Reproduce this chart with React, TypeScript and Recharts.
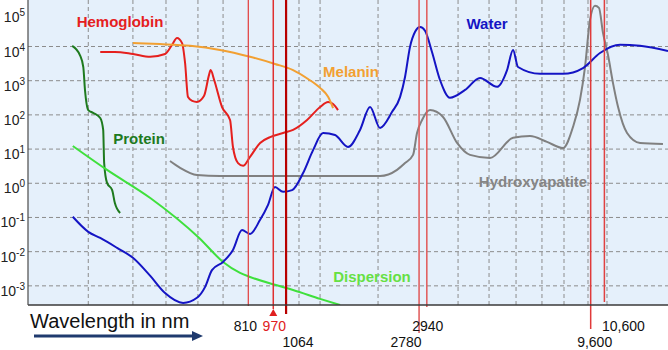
import React from 'react';
import {
  LineChart,
  Line,
  XAxis,
  YAxis,
  CartesianGrid,
  ReferenceLine,
} from 'recharts';

document.body.style.margin = '0';

// wavelengths in nm, absorption as log10 values (axis shows 10^n)
const hemoglobinWl = [278, 309, 352, 399, 444, 467, 484, 502, 513, 524, 540, 559, 588, 610, 617, 633, 670, 710, 725, 752, 780, 820, 882, 948, 1041, 1119, 1238, 1360, 1441, 1494, 1548];
const hemoglobinLog = [3.84, 3.84, 3.78, 3.7, 3.78, 4.05, 4.25, 4.1, 3.52, 2.52, 2.41, 2.38, 2.55, 3.17, 3.31, 3.02, 2.23, 1.85, 1.06, 0.59, 0.51, 0.77, 1.18, 1.35, 1.47, 1.56, 1.85, 2.23, 2.38, 2.32, 2.14];

const melaninWl = [352, 428, 532, 660, 820, 982, 1119, 1247, 1360, 1441, 1494];
const melaninLog = [4.1, 4.07, 4.02, 3.9, 3.7, 3.49, 3.31, 3.05, 2.79, 2.53, 2.2];

const proteinWl = [227, 240, 246, 249, 255, 264, 278, 284, 286, 292, 303, 309, 321];
const proteinLog = [4.02, 3.75, 3.4, 2.73, 2.14, 2.06, 1.91, 1.56, 0.59, 0.01, -0.2, -0.58, -0.87];

const dispersionWl = [228, 292, 399, 568, 675, 763, 820, 982, 1119, 1360, 1571];
const dispersionLog = [1.09, 0.39, -0.43, -1.6, -2.3, -2.62, -2.74, -2.97, -3.12, -3.38, -3.56];

const waterWl = [228, 255, 278, 314, 352, 399, 444, 506, 559, 593, 623, 675, 725, 774, 820, 882, 934, 982, 1041, 1111, 1203, 1293, 1390, 1515, 1664, 1815, 1951, 2097, 2288, 2423, 2512, 2604, 2701, 2800, 2902, 3052, 3234, 3476, 3875, 4317, 4882, 5248, 5480, 5680, 6658, 7862, 9083, 10268, 11866, 13710, 16780];
const waterLog = [-0.98, -1.42, -1.6, -1.89, -2.18, -2.71, -3.21, -3.5, -3.35, -3.03, -2.54, -2.3, -1.95, -1.37, -1.48, -1.07, -0.63, -0.11, -0.25, -0.2, 0.3, 0.97, 1.47, 1.41, 1.06, 1.56, 2.23, 1.62, 2.09, 2.52, 3.11, 3.99, 4.43, 4.57, 4.46, 3.84, 3.02, 2.5, 2.73, 3.08, 2.82, 3.31, 3.9, 3.4, 3.2, 3.2, 3.37, 3.81, 4.05, 4.02, 3.87];

const hydroxyWl = [460, 495, 559, 660, 1177, 2097, 2371, 2512, 2662, 2739, 2841, 3009, 3305, 3658, 4017, 4640, 5480, 6194, 7003, 7862, 8451, 8887, 9215, 9554, 9904, 10193, 10493, 10880, 11280, 11700, 12485, 13710, 16180];
const hydroxyLog = [0.65, 0.45, 0.24, 0.21, 0.21, 0.21, 0.39, 0.59, 0.83, 1.47, 1.85, 2.14, 1.94, 1.18, 0.83, 0.74, 1.33, 1.38, 1.21, 1.03, 1.65, 2.44, 3.4, 4.78, 5.19, 5.13, 4.4, 3.75, 2.93, 2.23, 1.47, 1.18, 1.15];

// laser wavelengths marked with red lines
const markWl = [810, 970, 1064, 2780, 2940, 9600, 10600];
const markLabels = ['810', '970', '1064', '2780', '2940', '9,600', '10,600'];

const yTicks = [-3, -2, -1, 0, 1, 2, 3, 4, 5];
const gridExp = [-3, -2, -1, 0, 1, 2, 3, 4];
const gridWl = [255, 352, 447, 563, 675, 1168, 1360, 2067, 3684, 4608, 5600, 6753, 7918, 9417, 10801];

// styles for the marker lines
const markRow = [0, 0, 1, 1, 0, 1, 0];
const markDx = [-3, 1, 12, -13, 1, 4, 19];
const markTextColor = ['#111', '#e02020', '#111', '#111', '#111', '#111', '#111'];
const markStroke = ['#e24848', '#e03030', '#b80000', '#e05858', '#e05858', '#e03a3a', '#e04040'];
const markWidth = [1.3, 1.5, 2.2, 1.5, 1.5, 1.5, 1.5];
const markExt = [1, 4, 9, 28, 2, 24, -3];

const toRows = (wl: number[], lg: number[]) => wl.map((w, i) => ({ wl: w, mu: lg[i] }));

const series = [
  { name: 'Hemoglobin', data: toRows(hemoglobinWl, hemoglobinLog), color: '#e5201e' },
  { name: 'Melanin', data: toRows(melaninWl, melaninLog), color: '#f2a032' },
  { name: 'Protein', data: toRows(proteinWl, proteinLog), color: '#1e7a1e' },
  { name: 'Dispersion', data: toRows(dispersionWl, dispersionLog), color: '#3fe03c' },
  { name: 'Hydroxyapatite', data: toRows(hydroxyWl, hydroxyLog), color: '#808080' },
  { name: 'Water', data: toRows(waterWl, waterLog), color: '#1414c4' },
];

const FONT = '"Liberation Sans", Arial, sans-serif';

function YTick(props: any) {
  const { x, y, payload } = props;
  return (
    <text x={x} y={y + 10} textAnchor="end" fontSize={14} fill="#222" fontFamily={FONT}>
      <tspan>10</tspan>
      <tspan dy={-6} fontSize={10}>{payload.value}</tspan>
    </text>
  );
}

function XTick(props: any) {
  const { x, y, payload } = props;
  const i = markWl.indexOf(payload.value);
  if (i < 0) return null;
  return (
    <text
      x={x + markDx[i]}
      y={y + (markRow[i] ? 42 : 26)}
      textAnchor="middle"
      fontSize={14}
      fill={markTextColor[i]}
      fontFamily={FONT}
    >
      {markLabels[i]}
    </text>
  );
}

function markShape(i: number) {
  return (p: any) => {
    const top = Math.min(p.y1, p.y2);
    const bottom = Math.max(p.y1, p.y2) + markExt[i];
    return (
      <g>
        <line x1={p.x1} x2={p.x1} y1={top} y2={bottom} stroke={markStroke[i]} strokeWidth={markWidth[i]} />
        {i === 1 && (
          <polygon
            points={`${p.x1 - 4},${bottom + 7} ${p.x1 + 4},${bottom + 7} ${p.x1},${bottom}`}
            fill="#e02020"
          />
        )}
      </g>
    );
  };
}

const labels = [
  { text: 'Hemoglobin', x: 120, y: 21, color: '#e5201e' },
  { text: 'Melanin', x: 351, y: 71, color: '#f2a032' },
  { text: 'Protein', x: 139, y: 138, color: '#1e7a1e' },
  { text: 'Water', x: 487, y: 23, color: '#1414c4' },
  { text: 'Hydroxyapatite', x: 533, y: 181, color: '#858585' },
  { text: 'Dispersion', x: 372, y: 276, color: '#66e044' },
];

export default function App() {
  return (
    <div style={{ position: 'relative', width: 668, height: 350 }}>
      <LineChart
        width={668}
        height={350}
        margin={{ top: 0, right: 0, left: 0, bottom: 0 }}
        style={{ fontFamily: FONT }}
      >
        <CartesianGrid
          fill="#e5f0fb"
          fillOpacity={1}
          stroke="#8c8c8c"
          strokeDasharray="4 3"
          horizontalValues={gridExp}
          verticalValues={gridWl}
        />
        <XAxis
          dataKey="wl"
          type="number"
          scale="log"
          domain={[165, 16780]}
          allowDataOverflow
          ticks={markWl}
          interval={0}
          tick={<XTick />}
          tickLine={false}
          tickSize={0}
          tickMargin={0}
          height={45}
          axisLine={{ stroke: '#3a3a3a', strokeWidth: 1.5 }}
        />
        <YAxis
          type="number"
          domain={[-3.56, 5.36]}
          allowDataOverflow
          ticks={yTicks}
          interval={0}
          tick={<YTick />}
          tickLine={false}
          tickSize={0}
          tickMargin={3}
          width={28}
          axisLine={{ stroke: '#4a4a4a', strokeWidth: 1.2 }}
        />
        {series.map((s) => (
          <Line
            key={s.name}
            data={s.data}
            dataKey="mu"
            name={s.name}
            type="monotone"
            stroke={s.color}
            strokeWidth={2}
            dot={false}
            isAnimationActive={false}
          />
        ))}
        {markWl.map((w, i) => (
          <ReferenceLine key={w} x={w} shape={markShape(i)} />
        ))}
      </LineChart>
      <svg
        width={668}
        height={350}
        style={{ position: 'absolute', left: 0, top: 0, pointerEvents: 'none' }}
      >
        {labels.map((l) => (
          <text
            key={l.text}
            x={l.x}
            y={l.y}
            textAnchor="middle"
            dominantBaseline="central"
            fontSize={15}
            fontWeight="bold"
            fill={l.color}
            fontFamily={FONT}
          >
            {l.text}
          </text>
        ))}
        <text x={30} y={328} fontSize={20} fill="#111" fontFamily={FONT}>
          Wavelength in nm
        </text>
        <line x1={34} y1={336} x2={194} y2={336} stroke="#1f3a6e" strokeWidth={3} />
        <polygon points="192,331 203,336 192,341" fill="#1f3a6e" />
      </svg>
    </div>
  );
}
